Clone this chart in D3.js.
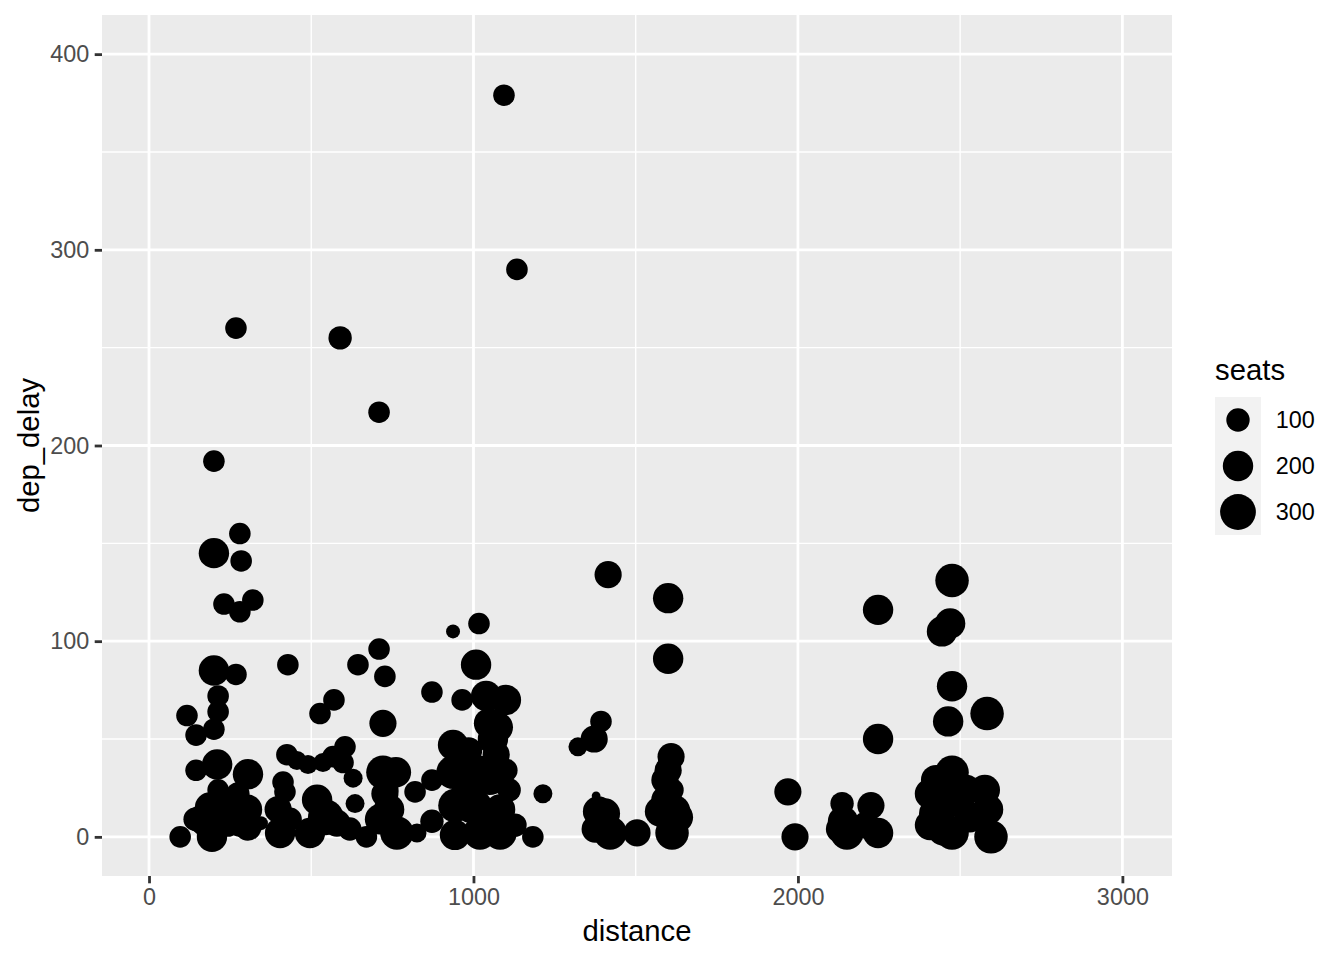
<!DOCTYPE html>
<html>
<head>
<meta charset="utf-8">
<script src="https://cdn.jsdelivr.net/npm/d3@7"></script>
<style>
  html, body { margin: 0; padding: 0; background: #ffffff; }
  svg text { font-family: "Liberation Sans", Arial, Helvetica, sans-serif; }
</style>
</head>
<body>
<svg id="chart" width="1344" height="960"></svg>
<script>
// ---- data ----
const distance = [
  96,117,145,145,200,200,280,284,231,320,280,200,268,213,213,200,210,305,268,213,188,173,194,157,234,274,302,280,305,345,243,142,
  428,425,456,490,536,567,604,598,629,635,527,570,644,727,709,589,709,413,419,398,404,435,518,545,496,579,619,670,721,761,727,712,764,740,736,721,820,826,872,872,872,
  937,1017,1008,965,1039,1100,1048,1075,1060,937,985,937,1020,985,943,943,1050,1066,1082,1035,1020,1082,1128,1183,1214,990,1010,1110,1100,1070,1094,1134,
  1322,1372,1393,1415,1378,1384,1395,1405,1375,1421,1504,1600,1600,1609,1600,1590,1612,1575,1617,1630,1612,1590,
  1969,1991,2136,2139,2151,2128,2225,2247,2247,2247,2210,
  2475,2469,2444,2475,2463,2583,2426,2475,2407,2440,2487,2518,2407,2450,2475,2576,2586,2595,2530,2420,2460
];
const depDelay = [
  0,62,52,34,192,145,155,141,119,121,115,85,83,72,64,55,37,32,260,24,15,7,0,9,16,22,14,7,5,7,6,9,
  88,42,39,37,38,41,46,38,30,17,63,70,88,82,96,255,217,28,23,14,2,9,19,10,2,7,4,0,33,33,22,9,2,14,24,58,23,2,74,29,8,
  105,109,88,70,72,70,58,56,50,47,44,33,32,24,16,1,30,30,14,9,2,2,6,0,22,14,16,24,34,42,379,290,
  46,50,59,134,21,13,6,12,4,2,2,122,91,41,34,29,24,13,13,10,2,19,
  23,0,17,8,2,4,16,2,116,50,6,
  131,109,105,77,59,63,29,33,22,19,19,24,6,4,2,24,14,0,10,12,26
];
const seats = [
  80,80,80,80,80,200,80,80,80,80,80,200,80,80,80,80,200,200,80,80,200,150,200,150,100,100,200,150,150,20,100,100,
  80,80,55,55,55,80,80,80,55,55,80,80,80,80,80,100,80,80,80,150,200,100,200,300,200,150,100,80,255,200,150,200,255,200,80,150,80,55,80,80,100,
  20,80,200,80,200,200,200,200,200,200,150,255,330,255,255,200,255,200,200,255,255,255,100,80,55,150,200,100,100,150,80,80,
  55,150,80,150,2,200,255,200,150,255,150,200,200,150,150,150,100,200,255,200,255,150,
  150,150,100,200,255,150,150,200,200,200,150,
  255,200,200,200,200,255,200,255,200,200,255,200,200,255,255,200,200,255,200,200,200
];
const xTicks = [0, 1000, 2000, 3000];
const xMinor = [500, 1500, 2500];
const yTicks = [0, 100, 200, 300, 400];
const yMinor = [50, 150, 250, 350];
const legendBreaks = [100, 200, 300];
// data ranges that trained the position scales (incl. rows dropped for missing seats)
const xRange = [5, 3003];
const yRange = [0, 400];
const seatRange = [2, 330];

const rows = distance.map((d, i) => ({ distance: d, dep_delay: depDelay[i], seats: seats[i] }));

// ---- layout ----
const svg = d3.select("#chart");
const panel = { left: 102, right: 1172, top: 15, bottom: 876 };
const expand = (r) => { const s = r[1] - r[0]; return [r[0] - 0.05 * s, r[1] + 0.05 * s]; };

const x = d3.scaleLinear().domain(expand(xRange)).range([panel.left, panel.right]);
const y = d3.scaleLinear().domain(expand(yRange)).range([panel.bottom, panel.top]);
// ggplot-like area size scale: size 1..6 linear in sqrt(seats)
const sizeScale = d3.scalePow().exponent(0.5).domain(seatRange).range([1, 6]);
const pxPerPt = 192 / 72;
const radius = (s) => 0.375 * (sizeScale(s) * 2.845 + 0.945) * pxPerPt + 0.6;

// panel background
svg.append("rect")
  .attr("x", panel.left).attr("y", panel.top)
  .attr("width", panel.right - panel.left).attr("height", panel.bottom - panel.top)
  .attr("fill", "#EBEBEB");

const grid = svg.append("g");
grid.selectAll(".xminor").data(xMinor).join("line")
  .attr("x1", d => x(d)).attr("x2", d => x(d))
  .attr("y1", panel.top).attr("y2", panel.bottom)
  .attr("stroke", "#fff").attr("stroke-width", 1.4);
grid.selectAll(".yminor").data(yMinor).join("line")
  .attr("y1", d => y(d)).attr("y2", d => y(d))
  .attr("x1", panel.left).attr("x2", panel.right)
  .attr("stroke", "#fff").attr("stroke-width", 1.4);
grid.selectAll(".xmajor").data(xTicks).join("line")
  .attr("x1", d => x(d)).attr("x2", d => x(d))
  .attr("y1", panel.top).attr("y2", panel.bottom)
  .attr("stroke", "#fff").attr("stroke-width", 2.8);
grid.selectAll(".ymajor").data(yTicks).join("line")
  .attr("y1", d => y(d)).attr("y2", d => y(d))
  .attr("x1", panel.left).attr("x2", panel.right)
  .attr("stroke", "#fff").attr("stroke-width", 2.8);

// points
svg.append("g").selectAll("circle").data(rows).join("circle")
  .attr("cx", d => x(d.distance))
  .attr("cy", d => y(d.dep_delay))
  .attr("r", d => radius(d.seats))
  .attr("fill", "#000");

// axes
const tickLen = 7.3;
const xAxis = d3.axisBottom(x).tickValues(xTicks).tickSize(tickLen).tickPadding(5.5).tickFormat(d3.format("d"));
const yAxis = d3.axisLeft(y).tickValues(yTicks).tickSize(tickLen).tickPadding(5.5).tickFormat(d3.format("d"));

const gx = svg.append("g").attr("transform", `translate(0,${panel.bottom})`).call(xAxis);
const gy = svg.append("g").attr("transform", `translate(${panel.left},0)`).call(yAxis);
[gx, gy].forEach(g => {
  g.select(".domain").remove();
  g.selectAll(".tick line").attr("stroke", "#333333").attr("stroke-width", 2.8);
  g.selectAll(".tick text").attr("fill", "#4D4D4D").style("font-size", "23.4px")
    .style("font-family", "'Liberation Sans', Arial, sans-serif");
});

// axis titles
svg.append("text")
  .attr("x", (panel.left + panel.right) / 2).attr("y", 941)
  .attr("text-anchor", "middle")
  .style("font-size", "29.3px").attr("fill", "#000")
  .text("distance");
svg.append("text")
  .attr("transform", `translate(39,${(panel.top + panel.bottom) / 2}) rotate(-90)`)
  .attr("text-anchor", "middle")
  .style("font-size", "29.3px").attr("fill", "#000")
  .text("dep_delay");

// legend
const legend = svg.append("g").attr("transform", "translate(1215,397)");
const keySize = 46;
legend.append("text")
  .attr("x", 0).attr("y", -17)
  .style("font-size", "29.3px").attr("fill", "#000")
  .text("seats");
const keys = legend.selectAll(".key").data(legendBreaks).join("g")
  .attr("transform", (d, i) => `translate(0,${i * keySize})`);
keys.append("rect")
  .attr("width", keySize).attr("height", keySize).attr("fill", "#F2F2F2");
keys.append("circle")
  .attr("cx", keySize / 2).attr("cy", keySize / 2)
  .attr("r", d => radius(d)).attr("fill", "#000");
keys.append("text")
  .attr("x", keySize + 14.7).attr("y", keySize / 2)
  .attr("dy", "0.35em")
  .style("font-size", "23.4px").attr("fill", "#000")
  .text(d => d);
</script>
</body>
</html>
